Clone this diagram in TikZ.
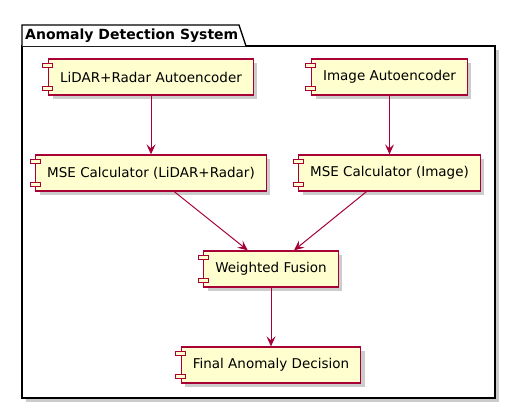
\documentclass[tikz,border=0pt]{standalone}
\usepackage{fontspec}
\setmainfont{DejaVu Sans}
\usetikzlibrary{calc,arrows.meta,shadows}

\definecolor{umlred}{HTML}{A80036}
\definecolor{umlfill}{HTML}{FEFECE}

\tikzset{
  comp/.style={draw=umlred, fill=umlfill, line width=1.3pt, rectangle,
    minimum height=36pt, inner xsep=11.5pt, inner ysep=0pt,
    font=\fontsize{13.5}{16}\selectfont,
    drop shadow={shadow xshift=4pt, shadow yshift=-4pt, fill=black, opacity=0.2}},
  comptab/.style={draw=umlred, fill=umlfill, line width=1pt},
  flow/.style={draw=umlred, line width=1pt,
    -{Stealth[length=10pt, width=9pt, inset=4pt]}}
}

\begin{document}
\begin{tikzpicture}[x=1pt, y=-1pt]
  \useasboundingbox (0,0) rectangle (516,410);

  % package frame with its tab
  \fill[black, opacity=0.2] (26,50) rectangle (499,402);
  \draw[line width=1.3pt, fill=white] (22,46) rectangle (495,398);
  \draw[line width=1.3pt, fill=white] (22,46) -- (22,25) -- (239,25) -- (246,46);
  \node[anchor=west, inner sep=0pt, font=\fontsize{14}{16}\bfseries\selectfont]
    (title) at (25,35.5) {Anomaly Detection System};

  % components
  \node[comp] (lraenc)   at (151,77)   {LiDAR+Radar Autoencoder};
  \node[comp] (imgenc)   at (389.5,77) {Image Autoencoder};
  \node[comp] (mselr)    at (151,173)  {MSE Calculator (LiDAR+Radar)};
  \node[comp] (mseimg)   at (389.5,173) {MSE Calculator (Image)};
  \node[comp] (fusion)   at (271,269)  {Weighted Fusion};
  \node[comp] (decision) at (271,365)  {Final Anomaly Decision};

  % the two small tabs on the left of each component
  \foreach \n in {lraenc,imgenc,mselr,mseimg,fusion,decision} {
    \draw[comptab] ($(\n.north west)+(-5,5)$) rectangle ++(10,4);
    \draw[comptab] ($(\n.south west)+(-5,-9)$) rectangle ++(10,4);
  }

  % data flow
  \draw[flow] (lraenc) -- (mselr);
  \draw[flow] (imgenc) -- (mseimg);
  \draw[flow] (mselr) -- (fusion);
  \draw[flow] (mseimg) -- (fusion);
  \draw[flow] (fusion) -- (decision);
\end{tikzpicture}
\end{document}
